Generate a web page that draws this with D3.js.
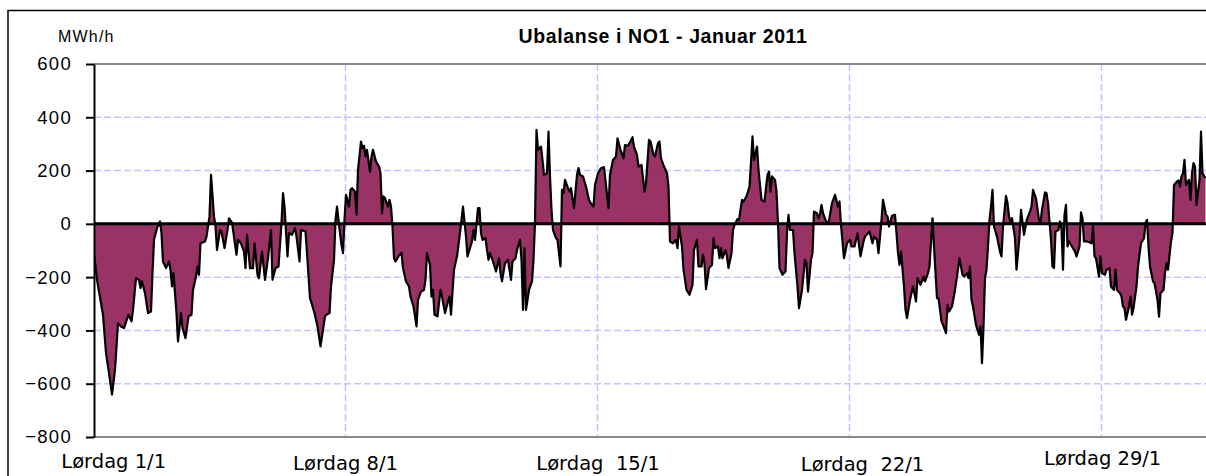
<!DOCTYPE html>
<html>
<head>
<meta charset="utf-8">
<script src="https://cdn.jsdelivr.net/npm/d3@7"></script>
<style>
  body { margin: 0; background: #fff; }
  svg { display: block; }
</style>
</head>
<body>
<svg id="chart" width="1206" height="476"></svg>
<script>
// hour of the month (0 = 1 Jan 00:00) and imbalance in MWh/h
const hours = [
  0, 2, 6, 8, 10, 12, 14, 16, 18, 20, 23, 25, 26, 28, 30, 31, 32, 34, 36, 38, 39, 40, 42, 44, 45, 46, 48, 50, 51, 52, 53, 55, 56, 58, 59,
  61, 63, 65, 66, 68, 69, 70, 71, 74, 75, 77, 78, 80, 81, 82, 84, 85, 87, 89, 90, 92, 95, 96, 98, 100, 101, 102, 104, 106, 107, 109, 110,
  112, 114, 116, 118, 119, 121, 123, 125, 126, 127, 129, 130, 132, 134, 135, 137, 138, 141, 142, 144, 146, 147, 149, 151, 152, 154, 155,
  157, 158, 160, 161, 162, 164, 165, 166, 167, 168, 170, 171, 172, 174, 175, 176, 178, 179, 180, 181, 182, 184, 185, 186, 188, 190, 191,
  192, 193, 194, 196, 197, 198, 199, 200, 201, 203, 205, 206, 208, 210, 211, 213, 215, 216, 218, 220, 221, 222, 224, 225, 226, 227, 229,
  231, 232, 234, 236, 237, 238, 240, 242, 244, 245, 246, 248, 249, 251, 252, 253, 254, 256, 257, 258, 259, 261, 262, 263, 264, 266, 268,
  270, 271, 272, 274, 276, 278, 279, 281, 282, 284, 285, 286, 287, 288, 290, 292, 293, 294, 295, 296, 298, 299, 300, 302, 303, 304, 305,
  306, 308, 309, 311, 312, 313, 314, 316, 317, 318, 320, 322, 323, 324, 326, 328, 330, 331, 333, 334, 336, 338, 340, 343, 344, 346, 348,
  349, 351, 353, 354, 356, 357, 359, 360, 362, 363, 365, 367, 368, 370, 371, 373, 374, 376, 377, 378, 380, 382, 383, 384, 386, 388, 389,
  390, 392, 393, 395, 397, 399, 400, 402, 403, 405, 406, 407, 408, 410, 412, 413, 414, 416, 417, 418, 419, 421, 422, 423, 425, 426, 427,
  429, 430, 432, 433, 435, 437, 438, 439, 440, 442, 443, 445, 447, 449, 450, 451, 452, 454, 455, 456, 457, 459, 461, 462, 463, 464, 466,
  467, 469, 470, 472, 474, 475, 476, 478, 479, 480, 482, 483, 484, 485, 486, 488, 489, 490, 492, 494, 496, 497, 498, 500, 502, 504, 505,
  507, 509, 511, 513, 514, 516, 517, 519, 520, 522, 523, 525, 526, 528, 529, 530, 532, 534, 535, 536, 537, 538, 540, 541, 542, 544, 546,
  548, 549, 551, 553, 554, 556, 557, 559, 560, 562, 563, 565, 566, 568, 569, 570, 572, 574, 575, 577, 579, 580, 582, 583, 584, 585, 586,
  588, 590, 591, 592, 593, 594, 595, 596, 597, 598, 599, 600, 602, 604, 605, 606, 608, 609, 610, 611, 612, 614, 615, 617, 618, 620, 622,
  624, 625, 626, 628, 630, 631, 632, 634, 635, 636, 638, 639, 640, 641, 643, 644, 645, 646, 647, 648, 649, 650, 652, 654, 655, 657, 658,
  659, 660, 662, 664, 665, 666, 667, 668, 670, 671, 672, 674, 675, 677, 678, 680, 681, 682, 684, 685, 686, 687, 688, 690, 691, 692, 693,
  695, 696, 698, 700, 701, 702, 703, 704, 706, 707, 709, 710, 711, 713, 714, 715, 716, 718, 719, 720, 722, 723, 724, 725, 726, 727, 728,
  730, 731, 732, 733, 734, 735, 737, 738, 739, 741
];
const imbalance = [
  -110, -210, -341, -485, -560, -641, -548, -373, -385, -391, -341, -366, -323, -204, -210, -241, -216, -260, -335, -329, -185, -60, -16, 9, -35, -141, -166, -141, -172, -235, -185, -335, -441, -335, -391,
  -429, -347, -341, -248, -198, -160, -191, -73, -66, -48, 28, 184, 28, -10, -98, -23, -29, -91, -23, 21, 5, -116, -60, -73, -104, -166, -41, -166, -166, -73, -191, -204,
  -104, -210, -129, -23, -210, -166, -160, 3, 115, 65, -122, -35, -41, -16, -48, -141, -23, -29, -110, -279, -316, -335, -385, -460, -422, -347, -341,
  -335, -235, -135, 15, 65, -35, -79, -110, 15, 109, 65, 128, 134, 121, 34, 203, 309, 284, 293, 253, 278, 196, 253, 278, 234, 215, 190,
  40, 103, 96, 65, 90, 65, -10, -129, -141, -122, -108, -166, -216, -235, -273, -310, -385, -285, -254, -248, -210, -110, -154, -273, -248, -341, -347,
  -248, -273, -335, -291, -273, -341, -172, -122, -35, 15, 65, -48, -122, -85, -66, -23, -60, 59, 59, -35, -60, -54, -98, -135, -110, -141, -179,
  -129, -185, -216, -148, -135, -210, -141, -129, -98, -60, -135, -323, -91, -323, -248, -216, -135, 3, 353, 278, 290, 240, 184, 190, 346, 178, 53,
  -23, -54, -60, -160, 128, 115, 165, 134, 121, 134, 59, 184, 209, 184, 178, 140, 90, 78, 65, 146, 190, 209, 213, 59, 184, 240, 253,
  321, 278, 246, 296, 293, 303, 325, 290, 259, 215, 221, 121, 153, 315, 309, 259, 253, 303, 309, 246, 215, 190, 140, -66, -73, -60, -91,
  -10, -85, -172, -248, -266, -229, -98, -60, -160, -160, -116, -148, -245, -166, -154, -54, -91, -85, -129, -91, -129, -98, -122, -166, -110, -23, -4,
  18, 15, 90, 84, 103, 140, 228, 328, 240, 290, 203, 90, 84, 184, 196, 121, 178, 165, 121, 3, -166, -191, -179, -35, 34, -23, -23,
  -110, -235, -316, -248, -135, -148, -254, -135, -110, 46, 40, 21, 37, 71, 40, 9, 3, 12, 78, 109, 65, 84, -4, -129, -73, -60, -85,
  -85, -35, -122, -66, -48, -35, -29, -73, -48, -60, -110, 15, 90, 34, 28, -10, 30, 34, -35, -110, -154, -104, -235, -323, -354, -285, -235,
  -291, -204, -229, -198, -216, -185, -160, 21, -85, -279, -279, -366, -379, -410, -304, -329, -310, -248, -210, -129, -191, -198, -185, -204, -160, -285, -310,
  -379, -416, -385, -523, -385, -204, -172, -85, 15, 65, 128, -10, -48, -104, -122, -10, 105, 78, 28, 9, 21, -54, -172, -48, 53, -41, 18,
  46, 65, 128, 96, 15, 3, 53, 118, 115, 78, -60, -160, -166, -29, -23, 9, -16, -172, 34, 71, -85, -66, -85, -104, -122, -85, 43,
  21, -66, -66, -70, -73, -10, -122, -129, -198, -122, -185, -191, -172, -166, -235, -248, -172, -248, -260, -273, -310, -316, -360, -310, -273, -341, -316,
  -235, -160, -73, -54, 3, 15, -85, -160, -216, -223, -285, -348, -260, -248, -185, -148, -172, -66, -35, 146, 159, 163, 140, 178, 190, 240, 146,
  165, 90, 190, 228, 215, 71, 165, 346, 190, 171
];

const yTicks = [-800, -600, -400, -200, 0, 200, 400, 600];
const gridDays = [7, 14, 21, 28];
const dayLabels = ['Lørdag 1/1', 'Lørdag 8/1', 'Lørdag  15/1', 'Lørdag  22/1', 'Lørdag 29/1'];
const title = 'Ubalanse i NO1 -  Januar 2011';
const unit = 'MWh/h';

const svg = d3.select('#chart');
const plotLeft = 94, plotTop = 64, plotBottom = 437, plotRight = 1206;

const x = d3.scaleLinear()
    .domain([0, 744])
    .range([plotLeft, plotLeft + 744 * 1.5]);

const y = d3.scaleLinear()
    .domain([-800, 600])
    .range([plotBottom, plotTop]);

const points = hours.map((h, i) => ({ h: h, v: imbalance[i] }));

// outer frame (cut off on right and bottom like the original)
svg.append('rect')
    .attr('x', 8).attr('y', 10.5)
    .attr('width', 1300).attr('height', 600)
    .attr('fill', 'none')
    .attr('stroke', '#000')
    .attr('stroke-width', 1.5);

svg.append('defs').append('clipPath').attr('id', 'plot')
    .append('rect')
    .attr('x', plotLeft).attr('y', plotTop)
    .attr('width', plotRight - plotLeft).attr('height', plotBottom - plotTop);

// gridlines
svg.append('g')
    .selectAll('line')
    .data(yTicks.filter(d => d > -800 && d < 600 && d !== 0))
    .enter().append('line')
    .attr('x1', plotLeft).attr('x2', plotRight)
    .attr('y1', d => y(d)).attr('y2', d => y(d))
    .attr('stroke', '#c4c4ff')
    .attr('stroke-width', 1.5)
    .attr('stroke-dasharray', '7,3');

svg.append('g')
    .selectAll('line')
    .data(gridDays)
    .enter().append('line')
    .attr('x1', d => x(d * 24) - 0.5).attr('x2', d => x(d * 24) - 0.5)
    .attr('y1', plotTop).attr('y2', plotBottom)
    .attr('stroke', '#c4c4ff')
    .attr('stroke-width', 1.5)
    .attr('stroke-dasharray', '7,3');

// plot top / bottom border
svg.append('line')
    .attr('x1', plotLeft).attr('x2', plotRight)
    .attr('y1', plotTop).attr('y2', plotTop)
    .attr('stroke', '#888').attr('stroke-width', 2);
svg.append('line')
    .attr('x1', plotLeft).attr('x2', plotRight)
    .attr('y1', plotBottom).attr('y2', plotBottom)
    .attr('stroke', '#888').attr('stroke-width', 2);

const area = d3.area()
    .x(d => x(d.h))
    .y0(y(0))
    .y1(d => y(d.v));

const line = d3.line()
    .x(d => x(d.h))
    .y(d => y(d.v));

const plot = svg.append('g').attr('clip-path', 'url(#plot)');

plot.append('path')
    .datum(points)
    .attr('d', area)
    .attr('fill', '#993366');

plot.append('path')
    .datum(points)
    .attr('d', line)
    .attr('fill', 'none')
    .attr('stroke', '#000')
    .attr('stroke-width', 2.2)
    .attr('stroke-linejoin', 'round');

// zero line
svg.append('line')
    .attr('x1', plotLeft).attr('x2', plotRight)
    .attr('y1', y(0)).attr('y2', y(0))
    .attr('stroke', '#000').attr('stroke-width', 3);

// y axis
const yAxis = svg.append('g')
    .attr('transform', `translate(${plotLeft},0)`)
    .call(d3.axisLeft(y).tickValues(yTicks).tickSize(8).tickPadding(14).tickSizeOuter(0));
yAxis.select('.domain').attr('stroke', '#000').attr('stroke-width', 2);
yAxis.selectAll('.tick line').attr('stroke', '#000').attr('stroke-width', 2);
yAxis.selectAll('.tick text')
    .attr('font-family', '"Liberation Sans", Arial, sans-serif')
    .attr('font-size', 18.5)
    .attr('letter-spacing', 1.3)
    .attr('fill', '#000');

// texts
svg.append('text')
    .attr('x', 58).attr('y', 42)
    .attr('font-family', '"Liberation Sans", Arial, sans-serif')
    .attr('font-size', 16)
    .attr('letter-spacing', 1.2)
    .text(unit);

svg.append('text')
    .attr('x', 663).attr('y', 43)
    .attr('text-anchor', 'middle')
    .attr('font-family', '"Liberation Sans", Arial, sans-serif')
    .attr('font-weight', 'bold')
    .attr('font-size', 19.5)
    .attr('letter-spacing', 0.6)
    .text(title);

const labelX = [113.7, 345.5, 598, 862.5, 1102.7];
const labelY = [467.5, 469.5, 469.5, 470.5, 465.3];
svg.append('g')
    .selectAll('text')
    .data(dayLabels)
    .enter().append('text')
    .attr('x', (d, i) => labelX[i])
    .attr('y', (d, i) => labelY[i])
    .attr('text-anchor', 'middle')
    .attr('font-family', '"DejaVu Sans", Verdana, sans-serif')
    .attr('font-size', 19.5)
    .style('white-space', 'pre')
    .text(d => d);
</script>
</body>
</html>
